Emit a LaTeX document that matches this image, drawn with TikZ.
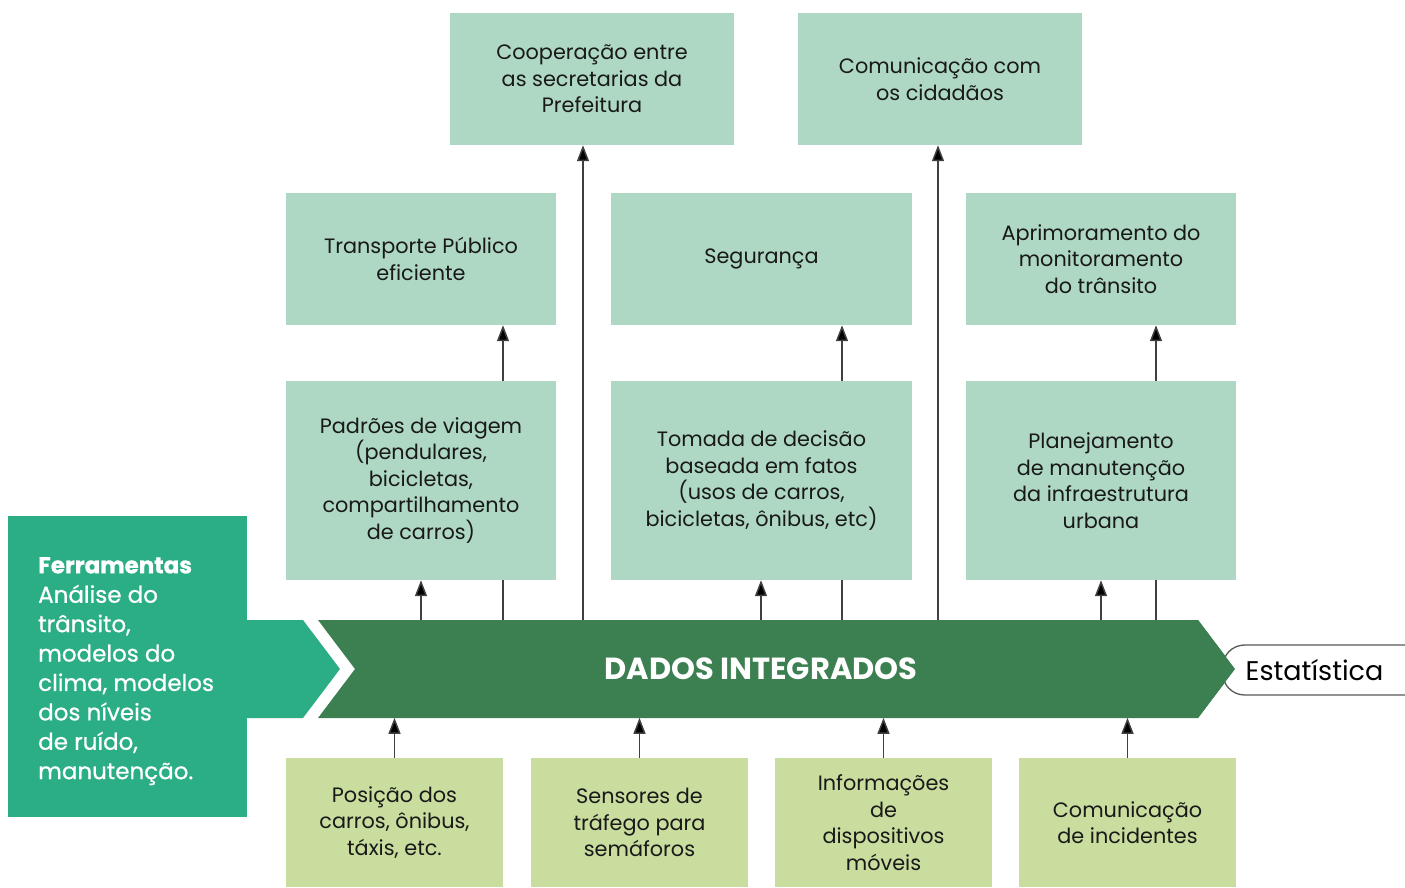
\documentclass[tikz,border=0pt]{standalone}
\usepackage{fontspec}
\setmainfont{Poppins}
\newfontfamily\medfont[FakeBold=0.7]{Poppins}
\usetikzlibrary{arrows.meta}
\definecolor{mint}{HTML}{AED8C4}
\definecolor{lime}{HTML}{C8DD9E}
\definecolor{teal}{HTML}{2BAE85}
\definecolor{dgreen}{HTML}{3C7F50}
\begin{document}
\begin{tikzpicture}[x=1pt,y=-1pt,
  box/.style={fill=mint,inner sep=0pt,align=center,font=\fontsize{20.8}{26.5}\selectfont,text=black!90},
  inbox/.style={fill=lime,inner sep=0pt,align=center,font=\fontsize{20.8}{26.5}\selectfont,text=black!90},
  arr/.style={draw=black!75,line width=1.5pt,-{Triangle[length=16pt,width=12pt,fill=black]}},
  ln/.style={draw=black!75,line width=1.5pt}]
\useasboundingbox (0,0) rectangle (1405,888);
% top boxes
\node[box,minimum width=284pt,minimum height=132pt] (coop) at (592,79) {Cooperação entre\\as secretarias da\\Prefeitura};
\node[box,minimum width=284pt,minimum height=132pt] (comc) at (940,79) {Comunicação com\\os cidadãos};
% row 2
\node[box,minimum width=270pt,minimum height=132pt] (tp) at (421,259) {Transporte Público\\eficiente};
\node[box,minimum width=301pt,minimum height=132pt] (seg) at (761.5,259) {Segurança};
\node[box,minimum width=270pt,minimum height=132pt] (apr) at (1101,259) {Aprimoramento do\\monitoramento\\do trânsito};
% row 3
\node[box,minimum width=270pt,minimum height=199pt] (pad) at (421,480.5) {Padrões de viagem\\(pendulares,\\bicicletas,\\compartilhamento\\de carros)};
\node[box,minimum width=301pt,minimum height=199pt] (tom) at (761.5,480.5) {Tomada de decisão\\baseada em fatos\\(usos de carros,\\bicicletas, ônibus, etc)};
\node[box,minimum width=270pt,minimum height=199pt] (pla) at (1101,480.5) {Planejamento\\de manutenção\\da infraestrutura\\urbana};
% tools box
\node[fill=teal,minimum width=239pt,minimum height=301pt,inner sep=0pt] (fer) at (127.5,666.5) {};
\node[anchor=north west,align=left,text=white,inner sep=0pt,font=\fontsize{23}{29.4}\medfont] (fert) at (38,557) {\textbf{Ferramentas}\\Análise do\\trânsito,\\modelos do\\clima, modelos\\dos níveis\\de ruído,\\manutenção.};
% teal band
\fill[teal] (247,620) -- (303,620) -- (340,669) -- (303,718) -- (247,718) -- cycle;
% dark arrow
\fill[dgreen] (318,620) -- (1198,620) -- (1235,669) -- (1198,718) -- (318,718) -- (355,669) -- cycle;
\node[text=white,font=\fontsize{30.5}{32}\selectfont\bfseries] (dados) at (761,669) {DADOS INTEGRADOS};
% Estatistica
\node[draw=black!65,line width=1.3pt,rounded corners=22pt,minimum width=210pt,minimum height=50pt,anchor=west,fill=white,inner xsep=23pt,inner ysep=0pt,text width=187pt,align=left,font=\fontsize{27}{30}\selectfont] (est) at (1222,670) {Estatística};
\fill[dgreen] (1198,620) -- (1235,669) -- (1198,718) -- cycle;
% inputs
\node[inbox,minimum width=217pt,minimum height=129pt] (pos) at (394.5,822.5) {Posição dos\\carros, ônibus,\\táxis, etc.};
\node[inbox,minimum width=217pt,minimum height=129pt] (sen) at (639.5,822.5) {Sensores de\\tráfego para\\semáforos};
\node[inbox,minimum width=217pt,minimum height=129pt] (inf) at (883.5,822.5) {Informações\\de\\dispositivos\\móveis};
\node[inbox,minimum width=217pt,minimum height=129pt] (cin) at (1127.5,822.5) {Comunicação\\de incidentes};
% coordinates on band
\coordinate (b421) at (421,620);
\coordinate (b503) at (503,620);
\coordinate (b583) at (583,620);
\coordinate (b761) at (761,620);
\coordinate (b842) at (842,620);
\coordinate (b938) at (938,620);
\coordinate (b1101) at (1101,620);
\coordinate (b1156) at (1156,620);
% arrows up into row 3
\draw[arr] (b421) -- (b421 |- pad.south);
\draw[arr] (b761) -- (b761 |- tom.south);
\draw[arr] (b1101) -- (b1101 |- pla.south);
% lines band to row 3
\draw[ln] (b503) -- (b503 |- pad.south);
\draw[ln] (b842) -- (b842 |- tom.south);
\draw[ln] (b1156) -- (b1156 |- pla.south);
% row3 to row2
\draw[arr] (b503 |- pad.north) -- (b503 |- tp.south);
\draw[arr] (b842 |- tom.north) -- (b842 |- seg.south);
\draw[arr] (b1156 |- pla.north) -- (b1156 |- apr.south);
% long arrows
\draw[arr] (b583) -- (b583 |- coop.south);
\draw[arr] (b938) -- (b938 |- comc.south);
% inputs to band
\draw[arr] (pos.north) -- ++(0,-40);
\draw[arr] (sen.north) -- ++(0,-40);
\draw[arr] (inf.north) -- ++(0,-40);
\draw[arr] (cin.north) -- ++(0,-40);
\end{tikzpicture}
\end{document}
